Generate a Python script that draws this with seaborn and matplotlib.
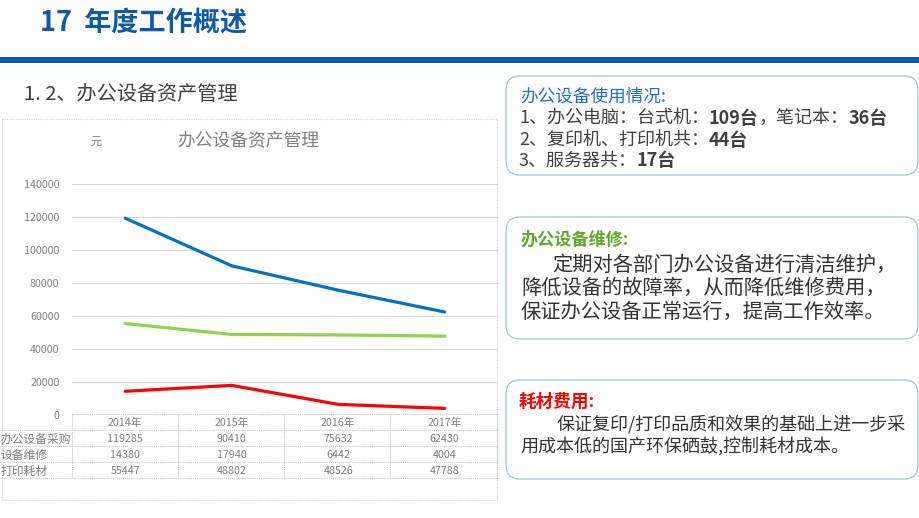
import pandas as pd
import matplotlib.pyplot as plt
import seaborn as sns
from matplotlib.patches import FancyBboxPatch
from matplotlib.transforms import blended_transform_factory

sns.set_theme(style="white")
plt.rcParams["font.family"] = ["Noto Sans CJK SC", "DejaVu Sans"]

# 数据
years = ["2014年", "2015年", "2016年", "2017年"]
series_names = ["办公设备采购", "设备维修", "打印耗材"]
purchase = [119285, 90410, 75632, 62430]
repair = [14380, 17940, 6442, 4004]
consumables = [55447, 48802, 48526, 47788]
line_colors = ["#0070C0", "#FF0000", "#92D050"]
y_ticks = [0, 20000, 40000, 60000, 80000, 100000, 120000, 140000]

values = [purchase, repair, consumables]
df = pd.DataFrame(
    [
        {"pos": i, "year": y, "series": name, "value": v}
        for name, vals in zip(series_names, values)
        for i, (y, v) in enumerate(zip(years, vals))
    ]
)

W, H = 920, 518
fig = plt.figure(figsize=(W / 100, H / 100), dpi=100)

# 背景层，按像素坐标画装饰
bg = fig.add_axes([0, 0, 1, 1])
bg.set_xlim(0, W)
bg.set_ylim(H, 0)
bg.axis("off")

# 折线图区域（像素）
AX_L, AX_R, AX_T, AX_B = 72, 498, 184, 415
ax = fig.add_axes([AX_L / W, (H - AX_B) / H, (AX_R - AX_L) / W, (AX_B - AX_T) / H])
ax.set_facecolor("none")

sns.lineplot(
    data=df,
    x="pos",
    y="value",
    hue="series",
    hue_order=series_names,
    palette=line_colors,
    linewidth=2.3,
    legend=False,
    ax=ax,
)
ax.set_xlim(-0.5, len(years) - 0.5)
ax.set_ylim(0, max(y_ticks))
ax.set_yticks(y_ticks)
ax.set_yticklabels([str(t) for t in y_ticks], fontsize=7.7, color="#7f7f7f")
ax.set_xticks([])
ax.set_xlabel("")
ax.set_ylabel("")
ax.grid(axis="y", color="#d9d9d9", linewidth=0.8)
ax.tick_params(axis="y", length=0, pad=9)
for s in ax.spines.values():
    s.set_visible(False)

# 数据表
row_h = 16
ax_h = AX_B - AX_T
tr = blended_transform_factory(ax.transData, ax.transAxes)


def row_frac(k):
    return -(row_h * k + row_h / 2) / ax_h


for i, y in enumerate(years):
    ax.text(i, row_frac(0), y, transform=tr, ha="center", va="center",
            fontsize=7.7, color="#7f7f7f", clip_on=False)
for r, (name, vals) in enumerate(zip(series_names, values), start=1):
    for i, v in enumerate(vals):
        ax.text(i, row_frac(r), str(v), transform=tr, ha="center", va="center",
                fontsize=7.7, color="#7f7f7f", clip_on=False)
    bg.text(1, AX_B + row_h * r + row_h / 2, name, ha="left", va="center",
            fontsize=8.5, color="#7f7f7f")

grid_kw = dict(color="#c0c0c0", linewidth=0.7, linestyle=(0, (1, 1)))
bg.plot([AX_L, 497], [AX_B - 1, AX_B - 1], **grid_kw)
for k in range(1, 5):
    yy = AX_B - 1 + row_h * k
    bg.plot([0, 497], [yy, yy], **grid_kw)
for xx in [72, 178, 284, 390, 497]:
    bg.plot([xx, xx], [AX_B - 1, AX_B - 1 + row_h * 4], **grid_kw)

# 图表外框
bg.add_patch(plt.Rectangle((2, 119), 495, 381, fill=False, edgecolor="#c8d4c8",
                           linewidth=0.8, linestyle=(0, (1, 1))))
bg.text(248, 140, "办公设备资产管理", ha="center", va="center", fontsize=12.8, color="#808080")
bg.text(96, 142, "元", ha="center", va="center", fontsize=8, color="#7f7f7f")

# 页面标题
bg.text(40, 24, "17  年度工作概述", ha="left", va="center", fontsize=19.5,
        fontweight="bold", color="#0E5AA7")
bg.add_patch(plt.Rectangle((0, 57), W, 6, color="#0E5AA7", linewidth=0))
bg.text(24, 95, "1. 2、办公设备资产管理", ha="left", va="center", fontsize=14.5, color="#404040")

# 右侧文字框
for (y0, y1) in [(76, 175), (217, 339), (380, 479)]:
    bg.add_patch(FancyBboxPatch((506, y0), 412, y1 - y0,
                                boxstyle="round,pad=0,rounding_size=14",
                                fill=False, edgecolor="#9DC3E6", linewidth=0.9))

renderer = fig.canvas.get_renderer()
inv = bg.transData.inverted()


def draw_runs(x, y, runs, size, color="#404040"):
    for txt, bold in runs:
        t = bg.text(x, y, txt, ha="left", va="center", fontsize=size,
                    fontweight="bold" if bold else "normal", color=color)
        bb = t.get_window_extent(renderer=renderer)
        x = inv.transform((bb.x1, bb.y0))[0]


bg.text(520, 97, "办公设备使用情况:", ha="left", va="center", fontsize=12.7, color="#1F6FC5")
draw_runs(519, 118, [("1、办公电脑：台式机：", False), ("109台", True),
                     ("，笔记本：", False), ("36台", True)], 13)
draw_runs(519, 140, [("2、复印机、打印机共：", False), ("44台", True)], 13)
draw_runs(519, 161, [("3、服务器共：", False), ("17台", True)], 13)

bg.text(521, 240, "办公设备维修:", ha="left", va="center", fontsize=12.3,
        fontweight="bold", color="#5FA830")
body = "#333333"
bg.text(552, 265, "定期对各部门办公设备进行清洁维护，", ha="left", va="center", fontsize=14.6, color=body)
bg.text(521, 288, "降低设备的故障率，从而降低维修费用，", ha="left", va="center", fontsize=14.6, color=body)
bg.text(521, 312, "保证办公设备正常运行，提高工作效率。", ha="left", va="center", fontsize=14.6, color=body)

bg.text(519, 402, "耗材费用:", ha="left", va="center", fontsize=12.7,
        fontweight="bold", color="#FF0000")
bg.text(557, 424, "保证复印/打印品质和效果的基础上进一步采", ha="left", va="center", fontsize=13, color=body)
bg.text(520, 446, "用成本低的国产环保硒鼓,控制耗材成本。", ha="left", va="center", fontsize=13, color=body)

fig.savefig("out.png", dpi=100)
